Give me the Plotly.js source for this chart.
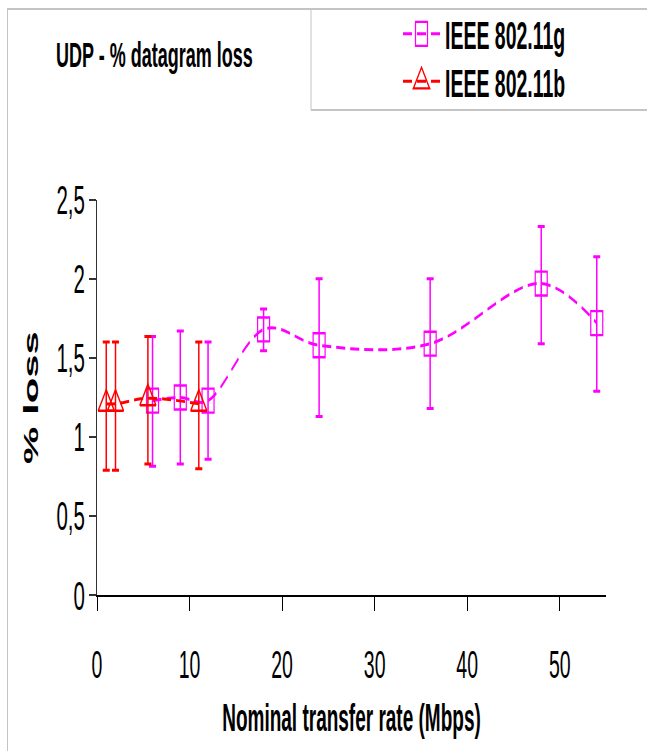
<!DOCTYPE html>
<html><head><meta charset="utf-8">
<script src="https://cdn.plot.ly/plotly-3.0.1.min.js"></script>
<style>
html,body{margin:0;padding:0;background:#fff;width:647px;height:751px;min-height:751px;}
#chart{width:647px;height:376px;transform:scaleY(1.99734);transform-origin:0 0;}
</style>
</head><body><div id="chart"></div>
<script>
// ---- data ----
const seriesNames = ['IEEE 802.11g', 'IEEE 802.11b'];
const gRate = [6, 9, 12, 18, 24, 36, 48, 54];
const gLoss = [1.23, 1.25, 1.23, 1.68, 1.58, 1.59, 1.97, 1.72];
const gErrPlus = [0.405, 0.42, 0.37, 0.13, 0.42, 0.41, 0.36, 0.42];
const gErrMinus = [0.415, 0.42, 0.37, 0.135, 0.45, 0.41, 0.38, 0.43];
const bRate = [1, 2, 5.5, 11];
const bLoss = [1.21, 1.21, 1.245, 1.21];
const bErrPlus = [0.39, 0.39, 0.39, 0.39];
const bErrMinus = [0.42, 0.42, 0.415, 0.41];
const xTicks = [0, 10, 20, 30, 40, 50];
const yTicks = [0, 0.5, 1, 1.5, 2, 2.5];
const chartTitle = 'UDP - % datagram loss';
const xTitle = 'Nominal transfer rate (Mbps)';
const yTitle = '% loss';

// ---- style ----
const FONT = 'Liberation Sans, Arial, sans-serif';
const magenta = '#FF00FF', red = '#FF0000';
const W = 647, H = 376, L = 97, R = 41, T = 100, B = 78;
const S = 751 / H;
const pw = W - L - R, ph = H - T - B;
const px2x = p => (p - L) / pw;
const py2y = p => (H - B - p / S) / ph;
const frameCol = '#c4c4c4';
const legFont = {family: FONT, size: 19.5, weight: 'bold', color: '#000'};

const traces = [
  {
    x: gRate, y: gLoss, name: seriesNames[0], legend: 'legend', type: 'scatter', mode: 'lines+markers',
    line: {color: magenta, width: 1.5, dash: '9px,5px', shape: 'spline', smoothing: 1},
    marker: {symbol: 'square-open', size: 12, color: magenta, line: {width: 1.2, color: magenta}},
    error_y: {type: 'data', symmetric: false, array: gErrPlus, arrayminus: gErrMinus,
      color: magenta, thickness: 1.5, width: 3.5}
  },
  {
    x: bRate, y: bLoss, name: seriesNames[1], legend: 'legend2', type: 'scatter', mode: 'lines+markers',
    line: {color: red, width: 1.5, dash: '9px,5px', shape: 'spline', smoothing: 1},
    marker: {symbol: 'triangle-up-open', size: 14, color: red, line: {width: 1.2, color: red}},
    error_y: {type: 'data', symmetric: false, array: bErrPlus, arrayminus: bErrMinus,
      color: red, thickness: 1.5, width: 3.5}
  }
];

const lineShape = (x0, y0, x1, y1) => ({type: 'line', xref: 'paper', yref: 'paper',
  x0, y0, x1, y1, line: {color: frameCol, width: 1}});

const legendAt = (cy) => ({xref: 'container', yref: 'container', x: 398 / W, xanchor: 'left',
  y: 1 - cy / S / H, yanchor: 'middle', bgcolor: 'rgba(0,0,0,0)', borderwidth: 0,
  itemwidth: 37, tracegroupgap: 0, font: legFont});

const layout = {
  width: W, height: H,
  margin: {l: L, r: R, t: T, b: B, pad: 0, autoexpand: false},
  paper_bgcolor: '#fff', plot_bgcolor: '#fff',
  separators: ',.',
  showlegend: true,
  font: {family: FONT, color: '#000'},
  title: {text: chartTitle, xref: 'container', yref: 'container',
    x: 56 / W, xanchor: 'left', y: 1 - 27.5 / H, yanchor: 'middle',
    font: {family: FONT, size: 18, weight: 'bold', color: '#000'}},
  legend: legendAt(34.5),
  legend2: legendAt(82),
  xaxis: {range: [0, 55], tickvals: xTicks, ticks: 'outside', ticklen: 7, tickwidth: 1,
    tickcolor: '#000', showline: true, linecolor: '#000', linewidth: 1,
    showgrid: false, zeroline: false, fixedrange: true, ticklabelstandoff: 10,
    tickfont: {family: FONT, size: 19.5, color: '#000'},
    title: {text: xTitle, standoff: 10, font: {family: FONT, size: 19, weight: 'bold', color: '#000'}}},
  yaxis: {range: [0, 2.5], tickvals: yTicks, ticks: 'outside', ticklen: 7, tickwidth: 1,
    tickcolor: '#333', showline: true, linecolor: '#333', linewidth: 1,
    showgrid: false, zeroline: false, fixedrange: true,
    tickfont: {family: FONT, size: 20.5, color: '#000'},
    title: {text: yTitle, standoff: 12, font: {family: FONT, size: 21, weight: 'bold', color: '#000'}}},
  shapes: [
    lineShape(px2x(7), py2y(9), px2x(700), py2y(9)),
    lineShape(px2x(7.5), py2y(9), px2x(7.5), py2y(800)),
    lineShape(px2x(311), py2y(9), px2x(311), py2y(110)),
    lineShape(px2x(311), py2y(110), px2x(700), py2y(110))
  ]
};

Plotly.newPlot('chart', traces, layout, {displayModeBar: false, staticPlot: true});
</script>
</body></html>
